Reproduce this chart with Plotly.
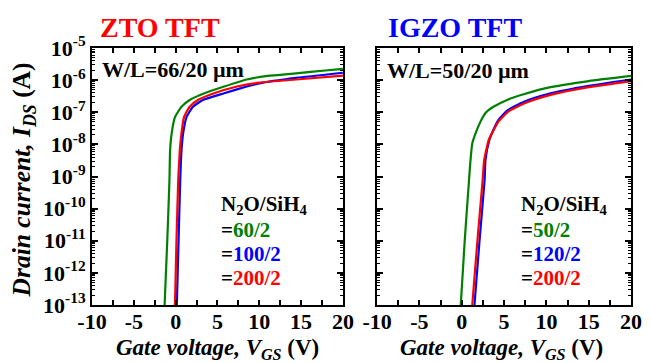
import plotly.graph_objects as go

# ---------------- data ----------------
# ZTO TFT, W/L = 66/20 um
ZTO_60_V = [-1.32, -1.0, -0.74, -0.66, -0.47, -0.08, 0.7, 1.68, 3.44, 5.8, 8.5, 11, 14.4, 17.9, 20]
ZTO_60_LOGI = [-13, -11, -9.11, -8.18, -7.65, -7.15, -6.83, -6.62, -6.41, -6.2, -5.98, -5.87, -5.79, -5.70, -5.65]
ZTO_100_V = [0.14, 0.35, 0.55, 0.7, 0.9, 1.3, 2.07, 3.25, 5.8, 8.5, 10, 14.4, 20]
ZTO_100_LOGI = [-13, -11, -9.11, -8.18, -7.65, -7.15, -6.83, -6.62, -6.41, -6.2, -6.1, -5.93, -5.77]
ZTO_200_V = [-0.08, 0.1, 0.31, 0.5, 0.7, 1.0, 1.68, 2.66, 4.6, 7.35, 10, 14.4, 20]
ZTO_200_LOGI = [-13, -11, -9.11, -8.18, -7.65, -7.15, -6.83, -6.62, -6.41, -6.2, -6.08, -5.98, -5.86]

# IGZO TFT, W/L = 50/20 um
IGZO_50_V = [-0.12, 0.35, 0.86, 1.0, 1.24, 1.63, 2.2, 2.78, 3.75, 5.49, 7.42, 10.5, 15, 20]
IGZO_50_LOGI = [-13, -11, -9.11, -8.6, -7.97, -7.66, -7.30, -7.03, -6.83, -6.60, -6.43, -6.22, -6.03, -5.87]
IGZO_120_V = [1.5, 2.1, 2.7, 2.8, 3.25, 3.6, 4.3, 5.4, 7.3, 10.4, 15, 20]
IGZO_120_LOGI = [-13, -11, -9.11, -8.49, -7.87, -7.63, -7.25, -6.94, -6.68, -6.42, -6.18, -5.98]
IGZO_200_V = [1.24, 1.85, 2.47, 2.65, 3.18, 3.56, 4.33, 5.49, 7.42, 10.5, 15, 20]
IGZO_200_LOGI = [-13, -11, -9.11, -8.49, -7.87, -7.66, -7.29, -6.98, -6.72, -6.46, -6.22, -6.03]

X_TICKS = [-10, -5, 0, 5, 10, 15, 20]
X_TICKTEXT = ["-10", "-5", "0", "5", "10", "15", "20"]
X_MINOR = [-7.5, -2.5, 2.5, 7.5, 12.5, 17.5]
Y_EXPONENTS = [-13, -12, -11, -10, -9, -8, -7, -6, -5]

GREEN = "#008000"
BLUE = "#0000FF"
RED = "#FF0000"
FONT = "Liberation Serif"

fig = go.Figure()


def add_curve(v, logi, color, xa, ya):
    fig.add_trace(go.Scatter(
        x=v, y=[10 ** k for k in logi], mode="lines",
        line=dict(color=color, width=2.2, shape="spline", smoothing=0.5),
        xaxis=xa, yaxis=ya, showlegend=False, hoverinfo="skip"))


add_curve(ZTO_60_V, ZTO_60_LOGI, GREEN, "x", "y")
add_curve(ZTO_100_V, ZTO_100_LOGI, BLUE, "x", "y")
add_curve(ZTO_200_V, ZTO_200_LOGI, RED, "x", "y")
add_curve(IGZO_50_V, IGZO_50_LOGI, GREEN, "x2", "y2")
add_curve(IGZO_120_V, IGZO_120_LOGI, BLUE, "x2", "y2")
add_curve(IGZO_200_V, IGZO_200_LOGI, RED, "x2", "y2")

y_tickvals = [10.0 ** e for e in Y_EXPONENTS]
y_ticktext = ["<b>10<sup>%d</sup></b>" % e for e in Y_EXPONENTS]
x_ticktext = ["<b>%s</b>" % t for t in X_TICKTEXT]
y_minor = [m * 10.0 ** e for e in Y_EXPONENTS[:-1] for m in range(2, 10)]

tickfont = dict(family=FONT, size=22, color="black", weight="bold")

xcommon = dict(range=[-10, 20], tickmode="array", tickvals=X_TICKS, ticktext=x_ticktext,
               ticks="inside", ticklen=5, tickwidth=1.5, tickcolor="black",
               showline=True, linewidth=2, linecolor="black", mirror="allticks",
               showgrid=False, zeroline=False, tickfont=tickfont, ticklabelstandoff=-4,
               minor=dict(tickmode="array", tickvals=X_MINOR, ticks="inside", ticklen=5,
                          tickwidth=1.5, tickcolor="black", showgrid=False))
ycommon = dict(type="log", range=[-13, -5], tickmode="array", tickvals=y_tickvals,
               ticks="inside", ticklen=6, tickwidth=1.5, tickcolor="black",
               showline=True, linewidth=2, linecolor="black", mirror="allticks",
               showgrid=False, zeroline=False, tickfont=tickfont,
               minor=dict(tickmode="array", tickvals=y_minor, ticks="inside", ticklen=3,
                          tickwidth=1, tickcolor="black", showgrid=False))

fig.update_layout(
    width=651, height=363,
    margin=dict(l=92, r=9, t=48, b=58),
    paper_bgcolor="white", plot_bgcolor="white",
    font=dict(family=FONT),
    xaxis=dict(domain=[0, 0.4655], anchor="y", **xcommon),
    xaxis2=dict(domain=[0.529, 1], anchor="y2", **xcommon),
    yaxis=dict(anchor="x", ticktext=y_ticktext, showticklabels=True, ticklabelstandoff=0, **ycommon),
    yaxis2=dict(anchor="x2", ticktext=y_ticktext, showticklabels=False, **ycommon),
)

ann = []
def text(x, y, s, size, xanchor="center", color="black", angle=0):
    ann.append(dict(x=x, y=y, xref="paper", yref="paper", text=s, showarrow=False,
                    xanchor=xanchor, yanchor="middle", textangle=angle,
                    font=dict(family=FONT, size=size, color=color, weight="bold")))

W, H, L = 550.0, 257.0, 92.0
def px(xp):
    return (xp - L) / W
def py(yp):
    return (305.0 - yp) / H

text(px(161), py(27), "ZTO TFT", 28, color=RED)
text(px(462), py(27), "IGZO TFT", 28, color=BLUE)
text(px(100), py(69), "W/L=66/20 µm", 22, xanchor="left")
text(px(391), py(70), "W/L=50/20 µm", 22, xanchor="left")

for x0, labels in [(222, ["60/2", "100/2", "200/2"]), (528, ["50/2", "120/2", "200/2"])]:
    text(px(x0), py(205), "N<sub>2</sub>O/SiH<sub>4</sub>", 21, xanchor="left")
    for yy, lab, col in zip([230, 254, 278], labels, [GREEN, BLUE, RED]):
        text(px(x0), py(yy), "=<span style='color:%s'>%s</span>" % (col, lab), 21, xanchor="left")

text(px(22), py(180), "<i>Drain current, I<sub>DS</sub></i> (A)", 25.5, angle=-90)
text(px(220), py(349), "<i>Gate voltage, V<sub>GS</sub></i> (V)", 23)
text(px(510), py(349), "<i>Gate voltage, V<sub>GS</sub></i> (V)", 23)

fig.update_layout(annotations=ann)
fig.write_html("out.html", config={"displayModeBar": False},
               post_script="document.body.style.margin='0';document.body.style.overflow='hidden';")
